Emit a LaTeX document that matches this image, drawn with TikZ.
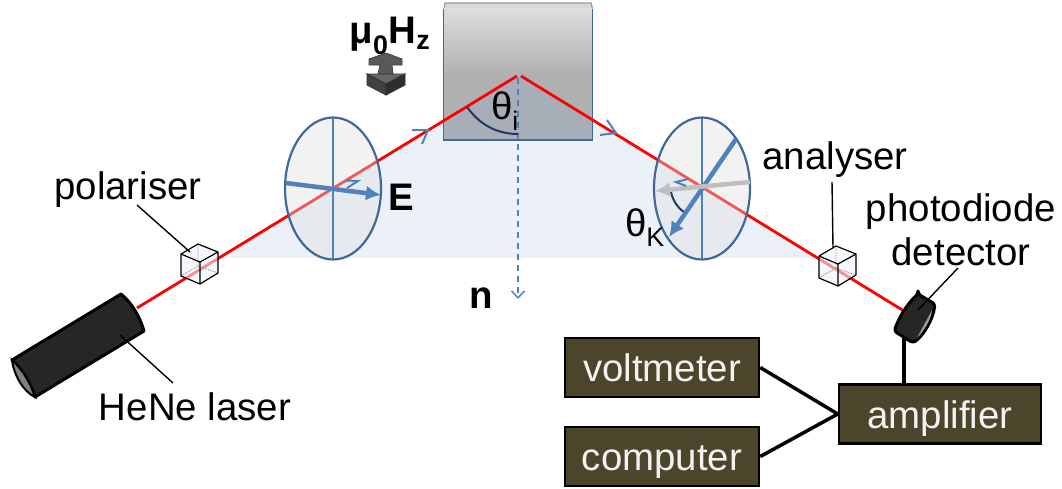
\documentclass[tikz,border=0pt]{standalone}
\usepackage{fontspec}
\setmainfont{Liberation Sans}
\usetikzlibrary{arrows.meta}
\definecolor{beamred}{HTML}{FF0000}
\definecolor{planeblue}{HTML}{ECF1F9}
\definecolor{sampleblue}{HTML}{A8AEB8}
\definecolor{rimblue}{HTML}{41689A}
\definecolor{fieldblue}{HTML}{4F81BD}
\definecolor{arcblue}{HTML}{1F3864}
\definecolor{boxolive}{HTML}{4B452B}
\definecolor{boxtext}{HTML}{F2F2F2}
\tikzset{
    labeltext/.style={font=\fontsize{38.4}{44}\selectfont, inner sep=0pt, align=center},
    boldtext/.style={font=\fontsize{38.4}{44}\selectfont\bfseries, inner sep=0pt},
    devicebox/.style={draw=black, line width=2.5pt, fill=boxolive, text=boxtext, minimum width=194pt, minimum height=59pt, inner sep=0pt, text height=28pt, text depth=0pt, font=\fontsize{38.4}{44}\selectfont},
    wire/.style={line width=3.5pt, black},
    leader/.style={line width=1.4pt, black},
    beam/.style={line width=2.8pt, beamred},
    chevron/.style={line width=2pt, fieldblue},
    vector/.style={line width=4.5pt, -{Latex[length=15pt,width=15pt]}}
}
\begin{document}
\begin{tikzpicture}[x=1pt,y=-1pt]
    \useasboundingbox (0,0) rectangle (1062,488);
    \coordinate (hitleft) at (517,76);
    \coordinate (hitright) at (521,76);
    \coordinate (planeleft) at (219,258);
    \coordinate (planeright) at (818,258);

    % Plane of incidence
    \fill[planeblue] (planeleft) -- (hitleft) -- (hitright) -- (planeright) -- cycle;

    % Sample
    \draw[gray!80, line width=1.2pt, fill=gray!30] (444,9) -- (445,3) -- (591,3) -- (592.5,9) -- cycle;
    \fill[black!31] (443.5,8) rectangle (592.5,140);
    \shade[top color=black!13, bottom color=black!31] (443.5,8) rectangle (592.5,75);
    \begin{scope}
        \clip (443.5,8) rectangle (592.5,140);
        \fill[sampleblue] (planeleft) -- (hitleft) -- (hitright) -- (planeright) -- cycle;
    \end{scope}
    \draw[rimblue, line width=1.2pt] (443.5,9) -- (443.5,140) -- (592.5,140) -- (592.5,9);

    % Surface normal
    \draw[fieldblue, line width=1.5pt, dash pattern=on 6pt off 5pt, -{Straight Barb[length=7pt,width=13pt]}] (518,78) -- (518,299);

    % Beam
    \coordinate (laserend) at (137,308);
    \coordinate (detectorend) at (904,311);
    \draw[beam] (laserend) -- (hitleft);
    \draw[beam] (hitright) -- (detectorend);
    \draw[chevron] (412,130) -- (428,130) -- (422,144);
    \draw[chevron] (600,135) -- (616,133) -- (607,120);
    \draw[arcblue, line width=2pt] (467,107) .. controls (480,125) and (497,134) .. (518,134);
    \node[labeltext] (thetai) at (505,111) {θ\textsubscript{i}};

    % Wave plates
    \foreach \x in {333,702} {
        \fill[black!13, fill opacity=0.4] (\x,188.5) ellipse [x radius=48, y radius=71];
        \draw[fieldblue, line width=1.6pt] (\x,118) -- (\x,259);
        \draw[rimblue, line width=2.2pt] (\x,188.5) ellipse [x radius=48, y radius=71];
    }

    % Polarisation before the sample
    \draw[vector, fieldblue] (286,183) -- (381,195);
    \draw[chevron] (346,180.5) -- (358,181) -- (347,188);
    \node[boldtext] (efield) at (401,197) {E};

    % Polarisation after the sample
    \draw[arcblue, line width=2pt] (671,192) .. controls (673,201) and (678,208) .. (684,212);
    \draw[vector, fieldblue] (736,139) -- (669,237);
    \draw[vector, black!25] (750,182) -- (655,191);
    \draw[chevron] (688,179) -- (676,182) -- (686,186);
    \node[labeltext] (thetak) at (645,228) {θ\textsubscript{K}};

    % Polariser and analyser cubes
    \foreach \dx/\dy in {0/0,638/2} {
        \begin{scope}[shift={(\dx,\dy)}]
            \fill[planeblue, fill opacity=0.6] (198,244) -- (218,252) -- (218,273) -- (200,284) -- (181,276) -- (181,254) -- cycle;
            \draw[gray, line width=0.8pt, densely dotted] (198,244) -- (198,266) (198,266) -- (181,276) (198,266) -- (218,273);
            \draw[black, line width=1.2pt, line join=round] (198,244) -- (218,252) -- (218,273) -- (200,284) -- (181,276) -- (181,254) -- cycle;
            \draw[black, line width=1.2pt, line join=round] (181,254) -- (200,262) -- (218,252) (200,262) -- (200,284);
        \end{scope}
    }

    % Laser
    \draw[black, line width=3pt, fill=black!85, line join=round] (12,360) -- (121,294) .. controls (132,303) and (140,317) .. (144,331) -- (35,397) .. controls (30,382) and (22,369) .. (12,360) -- cycle;
    \draw[black, line width=2pt, fill=gray] (12,360) .. controls (22,369) and (30,382) .. (35,397) .. controls (24,392) and (14,376) .. (12,360) -- cycle;

    % Detector
    \draw[black, line width=3pt, fill=black!85, line join=round, rounded corners=3pt] (918,294) -- (935,304) .. controls (933,319) and (924,335) .. (913,343) -- (894,331) .. controls (899,318) and (906,305) .. (918,294) -- cycle;
    \fill[gray!80] (932,310) .. controls (931,320) and (924,331) .. (917,338) .. controls (922,328) and (928,318) .. (932,310) -- cycle;

    % Labels
    \node[labeltext] (polariser) at (128,190) {polariser};
    \node[labeltext] (laser) at (195,407) {HeNe laser};
    \node[labeltext] (analyser) at (835,160) {analyser};
    \node[labeltext] (photodiode) at (961,230) {photodiode\\detector};
    \node[boldtext] (field) at (390,36) {μ\textsubscript{0}H\textsubscript{z}};
    \node[boldtext] (normal) at (481,298) {n};
    \coordinate (polarisertip) at (190,252);
    \coordinate (lasertip) at (120,335);
    \coordinate (analysertip) at (833,248);
    \coordinate (detectortip) at (918,310);
    \draw[leader] (137,205) -- (polarisertip);
    \draw[leader] (173,383) -- (lasertip);
    \draw[leader] (832,182) -- (analysertip);
    \draw[leader] (958,268) -- (detectortip);

    % Field arrow
    \draw[black!75, line width=0.8pt, fill=black!65] (386,53) -- (402,59) -- (402,65) -- (392,65) -- (393,74) -- (378,74) -- (380,65) -- (369,65) -- (369,59) -- cycle;
    \draw[black!80, line width=0.8pt, fill=black!60] (367,74) -- (405,74) -- (386,84) -- cycle;
    \draw[black!80, line width=0.8pt, fill=black!75] (367,74) -- (386,84) -- (386,95) -- (367,85) -- cycle;
    \draw[black!80, line width=0.8pt, fill=black!82] (405,74) -- (386,84) -- (386,95) -- (405,85) -- cycle;

    % Read-out
    \node[devicebox] (voltmeter) at (662,367.5) {voltmeter};
    \node[devicebox] (computer) at (662,456.5) {computer};
    \node[devicebox, minimum width=202pt] (amplifier) at (940,414) {amplifier};
    \coordinate (detectorfoot) at (904,338);
    \draw[wire] (voltmeter.east) -- (amplifier.west);
    \draw[wire] (computer.east) -- (amplifier.west);
    \draw[wire] (detectorfoot) -- (detectorfoot |- amplifier.north);
\end{tikzpicture}
\end{document}
